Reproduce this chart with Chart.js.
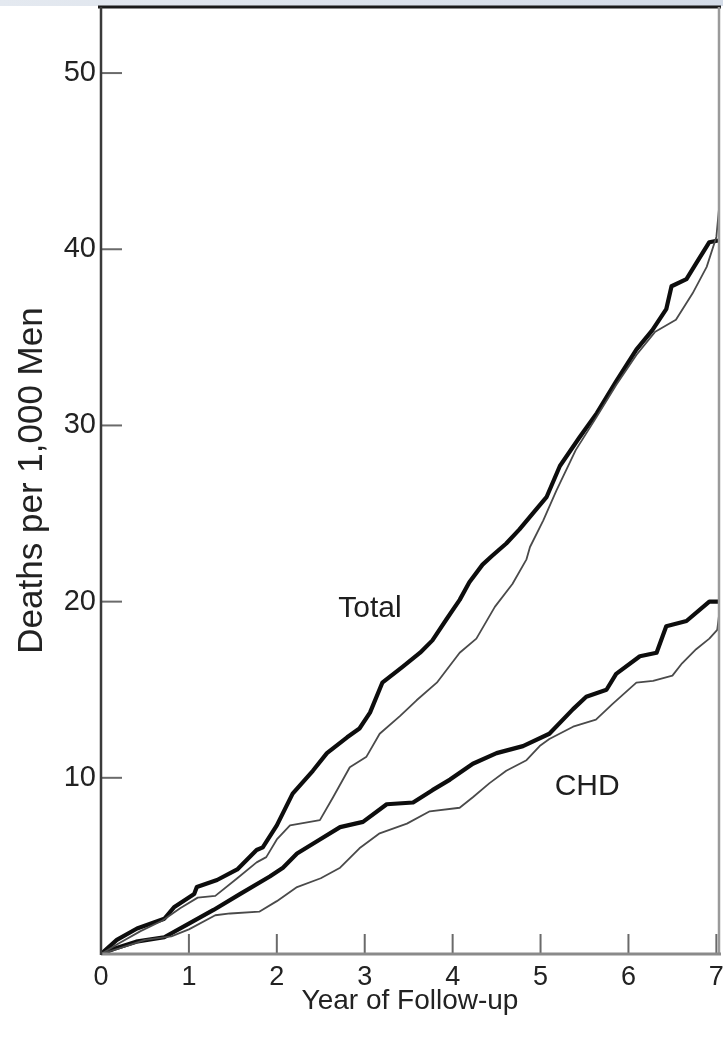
<!DOCTYPE html>
<html>
<head>
<meta charset="utf-8">
<script src="https://cdn.jsdelivr.net/npm/chart.js@4.4.1/dist/chart.umd.min.js"></script>
<style>
  body { margin: 0; background: #fff; }
  canvas { display: block; }
</style>
</head>
<body>
<canvas id="deathChart" width="723" height="1040"></canvas>
<script>
// axis ticks
let xTicks = [0, 1, 2, 3, 4, 5, 6, 7];
let yTicks = [10, 20, 30, 40, 50];

// Total mortality, thick line
let totalThickX = [0, 0.18, 0.41, 0.72, 0.83, 1.06, 1.09, 1.32, 1.55, 1.77, 1.84, 2.0, 2.18, 2.41, 2.57, 2.8, 2.94, 3.06, 3.2, 3.43, 3.63, 3.77, 3.93, 4.08, 4.19, 4.34, 4.45, 4.61, 4.76, 4.91, 5.07, 5.22, 5.44, 5.64, 5.86, 6.09, 6.27, 6.43, 6.49, 6.66, 6.77, 6.92, 7.02];
let totalThickY = [0, 0.8, 1.45, 2.0, 2.65, 3.4, 3.8, 4.2, 4.8, 5.9, 6.05, 7.3, 9.1, 10.4, 11.4, 12.3, 12.8, 13.7, 15.4, 16.3, 17.1, 17.8, 19.0, 20.1, 21.1, 22.1, 22.6, 23.3, 24.1, 25.0, 25.95, 27.7, 29.3, 30.7, 32.5, 34.3, 35.4, 36.6, 37.9, 38.3, 39.2, 40.4, 40.5];

// Total mortality, thin line
let totalThinX = [0, 0.2, 0.45, 0.7, 0.9, 1.1, 1.3, 1.55, 1.77, 1.88, 2.0, 2.15, 2.49, 2.64, 2.83, 3.02, 3.17, 3.4, 3.59, 3.82, 4.08, 4.27, 4.48, 4.68, 4.84, 4.88, 5.03, 5.18, 5.4, 5.64, 5.86, 6.09, 6.3, 6.54, 6.73, 6.89, 7.0, 7.03];
let totalThinY = [0, 0.6, 1.3, 1.9, 2.6, 3.2, 3.3, 4.3, 5.2, 5.5, 6.5, 7.3, 7.6, 8.9, 10.6, 11.2, 12.5, 13.5, 14.4, 15.4, 17.1, 17.9, 19.7, 21.0, 22.4, 23.1, 24.6, 26.3, 28.6, 30.5, 32.3, 34.0, 35.3, 36.0, 37.5, 39.0, 40.7, 42.3];

// CHD mortality, thick line
let chdThickX = [0, 0.15, 0.4, 0.72, 1.01, 1.28, 1.58, 1.92, 2.07, 2.23, 2.49, 2.72, 2.98, 3.25, 3.55, 3.77, 3.97, 4.23, 4.5, 4.8, 5.1, 5.37, 5.52, 5.75, 5.86, 6.13, 6.32, 6.43, 6.66, 6.92, 7.02];
let chdThickY = [0, 0.3, 0.7, 0.95, 1.75, 2.5, 3.4, 4.4, 4.9, 5.7, 6.5, 7.2, 7.5, 8.5, 8.6, 9.3, 9.9, 10.8, 11.4, 11.8, 12.5, 13.9, 14.6, 15.0, 15.9, 16.9, 17.1, 18.6, 18.9, 20.0, 20.0];

// CHD mortality, thin line
let chdThinX = [0, 0.2, 0.5, 0.8, 1.0, 1.3, 1.47, 1.8, 2.0, 2.23, 2.5, 2.72, 2.94, 3.17, 3.48, 3.74, 4.08, 4.23, 4.42, 4.61, 4.84, 4.99, 5.1, 5.37, 5.63, 5.82, 6.09, 6.28, 6.5, 6.61, 6.77, 6.92, 7.01, 7.03];
let chdThinY = [0, 0.3, 0.8, 1.0, 1.4, 2.2, 2.3, 2.4, 3.0, 3.8, 4.3, 4.9, 6.0, 6.85, 7.4, 8.1, 8.3, 8.9, 9.7, 10.4, 11.0, 11.8, 12.2, 12.9, 13.3, 14.2, 15.4, 15.5, 15.8, 16.5, 17.3, 17.9, 18.4, 19.2];

// curve labels: text, x (year), y (deaths)
let curveLabels = [
  ["Total", 3.06, 19.6],
  ["CHD", 5.53, 9.5],
];

const fontFamily = "'Liberation Sans', Arial, Helvetica, sans-serif";

function toPoints(xs, ys) {
  return xs.map(function (x, i) {
    return { x: x, y: ys[i] };
  });
}

function lineSet(xs, ys, color, width) {
  return {
    data: toPoints(xs, ys),
    borderColor: color,
    borderWidth: width,
    pointRadius: 0,
    tension: 0,
    fill: false,
    borderJoinStyle: "round",
  };
}

//frame, inward tick marks and top strip
const framePlugin = {
  id: "frame",
  beforeDraw(chart) {
    let ctx = chart.ctx;
    let grad = ctx.createLinearGradient(0, 0, chart.width, 0);
    grad.addColorStop(0, "#e4e9f0");
    grad.addColorStop(1, "#d3dbe7");
    ctx.save();
    ctx.fillStyle = grad;
    ctx.fillRect(0, 0, chart.width, chart.chartArea.top - 1);
    ctx.restore();
  },
  afterDatasetsDraw(chart) {
    let ctx = chart.ctx;
    let a = chart.chartArea;
    let xs = chart.scales.x;
    let ys = chart.scales.y;
    ctx.save();
    ctx.lineCap = "butt";
    ctx.strokeStyle = "#6a6a6a";
    ctx.lineWidth = 2;
    ys.ticks.forEach(function (t) {
      let py = ys.getPixelForValue(t.value);
      ctx.beginPath();
      ctx.moveTo(a.left, py);
      ctx.lineTo(a.left + 21, py);
      ctx.stroke();
    });
    xs.ticks.forEach(function (t) {
      if (t.value === 0) return;
      let px = xs.getPixelForValue(t.value);
      ctx.beginPath();
      ctx.moveTo(px, a.bottom);
      ctx.lineTo(px, a.bottom - 20);
      ctx.stroke();
    });
    function edge(x1, y1, x2, y2, color, w) {
      ctx.strokeStyle = color;
      ctx.lineWidth = w;
      ctx.beginPath();
      ctx.moveTo(x1, y1);
      ctx.lineTo(x2, y2);
      ctx.stroke();
    }
    edge(a.left - 3, a.top, a.right + 2, a.top, "#1a1a1a", 3);
    edge(a.right, a.top, a.right, a.bottom, "#9a9a9a", 2.5);
    edge(a.left, a.bottom, a.right + 2, a.bottom, "#8a8a8a", 3);
    edge(a.left, a.top, a.left, a.bottom + 1, "#3a3a3a", 2.5);
    ctx.restore();
  },
  afterDraw(chart) {
    let ctx = chart.ctx;
    ctx.save();
    ctx.fillStyle = "#1e1e1e";
    ctx.font = "30px " + fontFamily;
    ctx.textAlign = "center";
    ctx.textBaseline = "middle";
    curveLabels.forEach(function (l) {
      ctx.fillText(l[0], chart.scales.x.getPixelForValue(l[1]), chart.scales.y.getPixelForValue(l[2]));
    });
    ctx.restore();
  },
};

let deathChart = new Chart("deathChart", {
  type: "line",
  data: {
    datasets: [
      lineSet(totalThinX, totalThinY, "#4a4a4a", 1.8),
      lineSet(chdThinX, chdThinY, "#4a4a4a", 1.8),
      lineSet(totalThickX, totalThickY, "#0d0d0d", 4.2),
      lineSet(chdThickX, chdThickY, "#0d0d0d", 4.2),
    ],
  },
  options: {
    responsive: false,
    animation: false,
    layout: { padding: { top: 7, right: 4, left: 0, bottom: 0 } },
    plugins: {
      legend: { display: false },
      tooltip: { enabled: false },
    },
    scales: {
      x: {
        type: "linear",
        min: 0,
        max: 7.03,
        afterBuildTicks: function (s) {
          s.ticks = xTicks.map(function (v) { return { value: v }; });
        },
        afterFit: function (s) {
          s.height = 86;
          s.paddingLeft = 0;
          s.paddingRight = 0;
        },
        grid: { display: false, drawTicks: false },
        border: { display: false },
        ticks: {
          padding: 7,
          maxRotation: 0,
          color: "#222",
          font: { family: fontFamily, size: 27 },
        },
        title: {
          display: true,
          text: "Year of Follow-up",
          color: "#222",
          font: { family: fontFamily, size: 28 },
          padding: { top: 0, bottom: 22 },
        },
      },
      y: {
        type: "linear",
        min: 0,
        max: 53.75,
        afterBuildTicks: function (s) {
          s.ticks = yTicks.map(function (v) { return { value: v }; });
        },
        afterFit: function (s) {
          s.width = 101;
          s.paddingTop = 0;
          s.paddingBottom = 0;
        },
        grid: { display: false, drawTicks: false },
        border: { display: false },
        ticks: {
          padding: 5,
          color: "#222",
          font: { family: fontFamily, size: 29 },
        },
        title: {
          display: true,
          text: "Deaths per 1,000 Men",
          color: "#222",
          font: { family: fontFamily, size: 35 },
          padding: { top: 11, bottom: 0 },
        },
      },
    },
  },
  plugins: [framePlugin],
});
</script>
</body>
</html>
